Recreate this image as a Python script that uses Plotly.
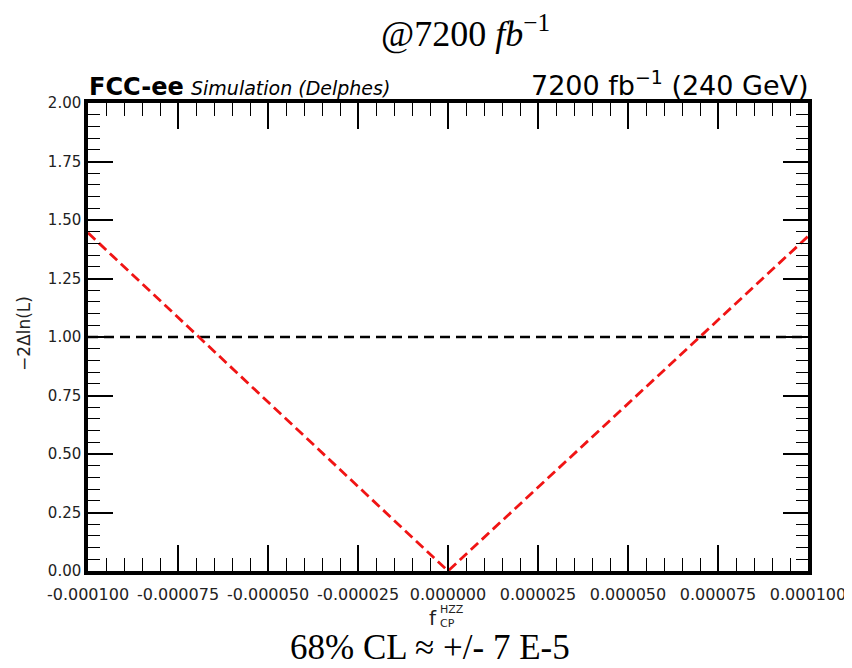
import plotly.graph_objects as go

# ---- data ----
scan_x = [-0.000100, 0.000000, 0.000100]
scan_y = [1.445, 0.000, 1.430]
ref_x = [-0.000100, 0.000100]
ref_y = [1.00, 1.00]

x_tickvals = [-0.0001, -0.000075, -0.00005, -0.000025, 0.0, 0.000025, 0.00005, 0.000075, 0.0001]
x_ticktext = ["-0.000100", "-0.000075", "-0.000050", "-0.000025", "0.000000",
              "0.000025", "0.000050", "0.000075", "0.000100"]
y_tickvals = [0.0, 0.25, 0.5, 0.75, 1.0, 1.25, 1.5, 1.75, 2.0]
y_ticktext = ["0.00", "0.25", "0.50", "0.75", "1.00", "1.25", "1.50", "1.75", "2.00"]

W, H = 852, 668
OFF = 8  # page body margin offset of the figure in the browser
L, T = 80, 95
PW, PH = 720, 468
R, B = W - L - PW, H - T - PH


def xp(px):
    # px: target pixel in page coordinates
    return (px - OFF - L) / PW


def yp(py):
    return (T + PH - (py - OFF)) / PH


SANS = "DejaVu Sans"
SERIF = "Liberation Serif"

fig = go.Figure()
fig.add_trace(go.Scatter(x=ref_x, y=ref_y, mode="lines",
                         line=dict(color="black", width=2.6, dash="10px,6px"),
                         showlegend=False, hoverinfo="skip"))
fig.add_trace(go.Scatter(x=scan_x, y=scan_y, mode="lines",
                         line=dict(color="#f01414", width=2.8, dash="10px,5px"),
                         showlegend=False, hoverinfo="skip"))

axis_common = dict(
    showgrid=False, zeroline=False, showline=True, linecolor="black", linewidth=3.5,
    mirror="ticks", ticks="inside", tickcolor="black", tickwidth=1.5,
)

fig.update_xaxes(range=[-0.0001, 0.0001], tickvals=x_tickvals, ticktext=x_ticktext,
                 ticklen=26, minor=dict(dtick=0.000005, ticklen=13, tickwidth=1.3,
                                        tickcolor="black", ticks="inside"),
                 ticklabelstandoff=6,
                 tickfont=dict(family=SANS, size=16, color="#222222"),
                 **axis_common)
fig.update_yaxes(range=[0, 2.0], tickvals=y_tickvals, ticktext=y_ticktext,
                 ticklen=25, minor=dict(dtick=0.05, ticklen=12, tickwidth=1.3,
                                        tickcolor="black", ticks="inside"),
                 tickfont=dict(family=SANS, size=15, color="#222222"),
                 **axis_common)

annotations = [
    # top title
    dict(x=xp(465), y=yp(31), text="@7200 <i>fb</i><sup>−1</sup>",
         font=dict(family=SERIF, size=36, color="black"), xanchor="center", yanchor="middle"),
    # FCC-ee label
    dict(x=xp(87), y=yp(87), text="<b>FCC-ee</b>",
         font=dict(family=SANS, size=24, color="black"), xanchor="left", yanchor="middle"),
    dict(x=xp(189), y=yp(88), text="<i>Simulation (Delphes)</i>",
         font=dict(family=SANS, size=19, color="black"), xanchor="left", yanchor="middle"),
    # lumi label
    dict(x=xp(811), y=yp(84), text="7200 fb<sup>−1</sup> (240 GeV)",
         font=dict(family=SANS, size=27, color="black"), xanchor="right", yanchor="middle"),
    # y axis title
    dict(x=xp(24), y=yp(334), text="−2Δln(L)", textangle=-90,
         font=dict(family=SANS, size=17, color="#222222"), xanchor="center", yanchor="middle"),
    # x axis title f_CP^HZZ (stacked super/subscript)
    dict(x=xp(439), y=yp(618), text="f",
         font=dict(family=SANS, size=20, color="#222222"), xanchor="right", yanchor="middle"),
    dict(x=xp(438), y=yp(616), text="HZZ<br>CP", align="left",
         font=dict(family=SANS, size=11, color="#222222"), xanchor="left", yanchor="middle"),
    # bottom note
    dict(x=xp(430), y=yp(647), text="68% CL ≈ +/- 7 E-5",
         font=dict(family=SERIF, size=35, color="black"), xanchor="center", yanchor="middle"),
]
for a in annotations:
    a.update(xref="paper", yref="paper", showarrow=False)

fig.update_layout(
    width=W, height=H,
    margin=dict(l=L, r=R, t=T, b=B, pad=0),
    paper_bgcolor="white", plot_bgcolor="white",
    annotations=annotations,
    showlegend=False,
)

fig.write_html("out.html")
